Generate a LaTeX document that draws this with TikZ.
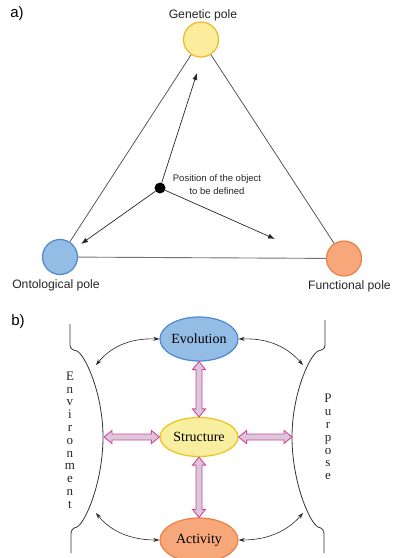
\documentclass[tikz,border=0pt]{standalone}
\usepackage{fontspec}
\setmainfont{Liberation Serif}
\newfontfamily\arialfont{Liberation Sans}
\usetikzlibrary{arrows.meta,calc,shapes.geometric}
\definecolor{genfill}{HTML}{FBEC9E}
\definecolor{gendraw}{HTML}{F2B81F}
\definecolor{ontfill}{HTML}{94BDE6}
\definecolor{ontdraw}{HTML}{4C89D0}
\definecolor{funfill}{HTML}{F6A87A}
\definecolor{fundraw}{HTML}{EE7E44}
\definecolor{strfill}{HTML}{F8EEA0}
\definecolor{strdraw}{HTML}{F2C21A}
\definecolor{fatfill}{HTML}{DCC6DA}
\definecolor{fatdraw}{HTML}{D2479E}
\newcommand\fatV[2]{\draw[fat] let \p1=#1, \p2=#2 in
  (\x1,\y1) -- (\x1+6.5pt,\y1-8pt) -- (\x1+3pt,\y1-8pt) -- (\x1+3pt,\y2+8pt) -- (\x1+6.5pt,\y2+8pt)
  -- (\x1,\y2) -- (\x1-6.5pt,\y2+8pt) -- (\x1-3pt,\y2+8pt) -- (\x1-3pt,\y1-8pt) -- (\x1-6.5pt,\y1-8pt) -- cycle;}
\newcommand\fatH[2]{\draw[fat] let \p1=#1, \p2=#2 in
  (\x1,\y1) -- (\x1+8pt,\y1+6.5pt) -- (\x1+8pt,\y1+3pt) -- (\x2-8pt,\y1+3pt) -- (\x2-8pt,\y1+6.5pt)
  -- (\x2,\y1) -- (\x2-8pt,\y1-6.5pt) -- (\x2-8pt,\y1-3pt) -- (\x1+8pt,\y1-3pt) -- (\x1+8pt,\y1-6.5pt) -- cycle;}
\begin{document}
\begin{tikzpicture}[x=1pt,y=-1pt,
  pole/.style={circle, minimum size=35pt, inner sep=0pt, line width=1.2pt},
  tri/.style={draw=black!72, line width=0.7pt},
  ptr/.style={-{Latex[length=7pt,width=5pt]}, line width=0.7pt, draw=black!85},
  oval/.style={ellipse, line width=1.2pt, inner sep=0pt, font=\fontsize{14}{16}\selectfont},
  fat/.style={draw=fatdraw, fill=fatfill, line width=0.9pt, line join=miter},
  link/.style={{Stealth[length=6pt,width=4pt]}-{Stealth[length=6pt,width=4pt]}, line width=0.6pt, draw=black!85},
  bracket/.style={draw=black!80, line width=0.8pt},
  plabel/.style={font=\arialfont\fontsize{12.2}{14}\selectfont, text=black!85},
  vtext/.style={font=\fontsize{13}{12.8}\selectfont, align=center, text=black!85, inner sep=0pt}
]
\useasboundingbox (0,0) rectangle (392,558);
\clip (0,0) rectangle (392,558);
% ---------- part a ----------
\node[font=\arialfont\fontsize{15}{18}\selectfont] (la) at (17,14) {a)};
\node[pole, fill=genfill, draw=gendraw] (gen) at (201,39.5) {};
\node[pole, fill=ontfill, draw=ontdraw] (ont) at (60,257) {};
\node[pole, fill=funfill, draw=fundraw] (fun) at (344,258.5) {};
\node[plabel] (genl) at (203,15) {Genetic pole};
\node[plabel] (ontl) at (56,285) {Ontological pole};
\node[plabel, anchor=east, inner xsep=0pt] (funl) at (391,286) {Functional pole};
\draw[tri] (gen) -- (ont);
\draw[tri] (gen) -- (fun);
\draw[tri, draw=black!55, line width=0.9pt] (ont) -- (fun);
\node[circle, fill=black, minimum size=11pt, inner sep=0pt] (obj) at (160,188) {};
\node[font=\arialfont\fontsize{9.5}{13}\selectfont, align=center, text=black!85] (objl) at (217,185) {Position of the object\\to be defined};
\coordinate (tg) at (197,73);
\coordinate (to) at (81,244);
\coordinate (tf) at (275,239);
\draw[ptr] (obj) -- (tg);
\draw[ptr] (obj) -- (to);
\draw[ptr] (obj) -- (tf);
% ---------- part b ----------
\node[font=\arialfont\fontsize{15}{18}\selectfont] (lb) at (18,322) {b)};
\node[oval, fill=ontfill, draw=ontdraw, minimum width=76pt, minimum height=44pt] (evo) at (199,339) {Evolution};
\node[oval, fill=strfill, draw=strdraw, minimum width=78pt, minimum height=39pt] (str) at (199,437) {Structure};
\node[oval, fill=funfill, draw=fundraw, minimum width=78pt, minimum height=44pt] (act) at (199,540) {Activity};
% brackets
\draw[bracket] (70,324) -- (70,345) .. controls (70,349) and (73,350) .. (77,351)
  .. controls (86,356) and (103,395) .. (103,437)
  .. controls (103,481) and (86,522) .. (77,527)
  .. controls (73,528) and (71,530) .. (71,534) -- (71,553);
\draw[bracket] (325,320) -- (325,345) .. controls (325,349) and (322,350) .. (318,351)
  .. controls (309,356) and (292,395) .. (292,437)
  .. controls (292,481) and (309,522) .. (318,527)
  .. controls (322,528) and (324,530) .. (324,534) -- (324,553);
\node[vtext] (env) at (70,440) {E\\n\\v\\i\\r\\o\\n\\m\\e\\n\\t};
\node[vtext] (pur) at (328,437) {P\\u\\r\\p\\o\\s\\e};
\coordinate (envmid) at (104,437);
\coordinate (purmid) at (292,437);
% fat arrows
\fatV{(evo.south)}{(str.north)}
\fatV{(str.south)}{(act.north)}
\fatH{(envmid)}{(str.west)}
\fatH{(str.east)}{(purmid)}
% thin links
\coordinate (lt) at (96,365);
\coordinate (rt) at (303,365);
\coordinate (lbm) at (96,513);
\coordinate (rbm) at (303,513);
\draw[link] (evo.west) .. controls (128,338) and (110,348) .. (lt);
\draw[link] (evo.east) .. controls (270,338) and (288,348) .. (rt);
\draw[link] (act.west) .. controls (126,540) and (108,528) .. (lbm);
\draw[link] (act.east) .. controls (272,540) and (290,528) .. (rbm);
\end{tikzpicture}
\end{document}
